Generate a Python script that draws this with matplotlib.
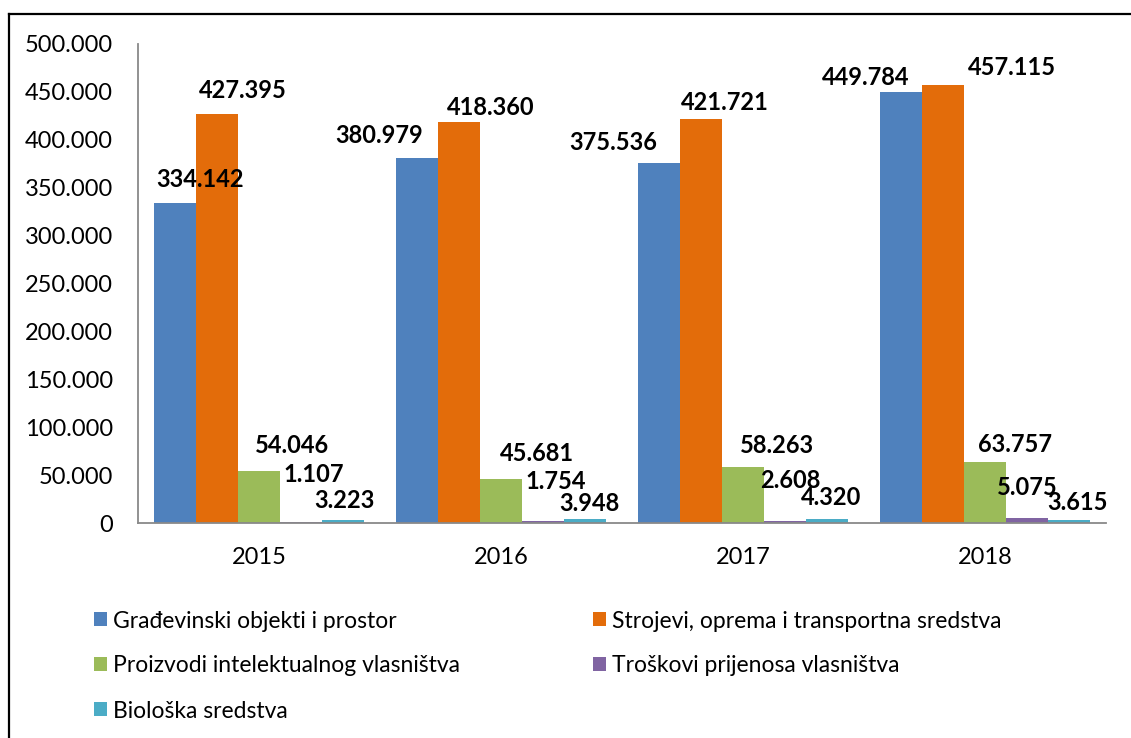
import matplotlib
matplotlib.use("Agg")
import matplotlib.pyplot as plt
from matplotlib.lines import Line2D
from matplotlib.patches import Patch
import numpy as np

plt.rcParams['font.family'] = ['Lato', 'DejaVu Sans']

years = ["2015", "2016", "2017", "2018"]
series_names = [
    "Građevinski objekti i prostor",
    "Strojevi, oprema i transportna sredstva",
    "Proizvodi intelektualnog vlasništva",
    "Troškovi prijenosa vlasništva",
    "Biološka sredstva",
]
gradjevinski = [334142, 380979, 375536, 449784]
strojevi = [427395, 418360, 421721, 457115]
proizvodi = [54046, 45681, 58263, 63757]
troskovi = [1107, 1754, 2608, 5075]
bioloska = [3223, 3948, 4320, 3615]
y_ticks = [0, 50000, 100000, 150000, 200000, 250000, 300000, 350000, 400000, 450000, 500000]

series_values = [gradjevinski, strojevi, proizvodi, troskovi, bioloska]
colors = ["#4F81BD", "#E36C0A", "#9BBB59", "#8064A2", "#4BACC6"]

# label offsets (pixels, from bar top centre), per series per year
label_dx = [[25, -38, -46, -35],
            [26, 32, 24, 69],
            [33, 36, 34, 30],
            [13, 13, 5, 0],
            [1, 4, 4, 8]]
label_dy = [[23, 23, 21, 15],
            [23, 15, 16, 18],
            [26, 26, 22, 17],
            [47, 40, 40, 31],
            [19, 16, 21, 17]]

# legend entry positions (pixels: left of marker, row centre)
legend_pos = [(94, 621), (593, 621), (94, 666), (593, 666), (94, 711)]

W, H = 1131, 738
fig = plt.figure(figsize=(W / 100, H / 100), dpi=100)
ax = fig.add_axes([138 / W, 1 - 523 / H, (1106 - 138) / W, (523 - 44) / H])

x = np.arange(len(years))
bw = 0.1736
handles = []
for i, (name, vals, c) in enumerate(zip(series_names, series_values, colors)):
    pos = x + (i - 2) * bw
    ax.bar(pos, vals, width=bw, color=c, edgecolor='none', label=name)
    handles.append(Patch(facecolor=c, edgecolor='none', label=name))
    for j, (p, v) in enumerate(zip(pos, vals)):
        ax.annotate(f"{v:,}".replace(",", "."), xy=(p, v),
                    xytext=(label_dx[i][j] * 0.72, label_dy[i][j] * 0.72),
                    textcoords='offset points', ha='center', va='center',
                    fontsize=17, fontweight='bold', color='black')

ax.set_xlim(-0.5, len(years) - 0.5)
ax.set_ylim(0, 500000)
ax.set_yticks(y_ticks)
ax.set_yticklabels([f"{t:,}".replace(",", ".") for t in y_ticks])
ax.set_xticks(x)
ax.set_xticklabels(years)
ax.tick_params(axis='both', length=0, labelsize=17, colors='black')
ax.tick_params(axis='y', pad=18)
ax.tick_params(axis='x', pad=17)
for s in ['top', 'right']:
    ax.spines[s].set_visible(False)
for s in ['left', 'bottom']:
    ax.spines[s].set_color('#898989')
    ax.spines[s].set_linewidth(1.3)

leg_kw = dict(frameon=False, fontsize=16.5, handlelength=0.55, handleheight=0.55,
              handletextpad=0.28, borderpad=0, borderaxespad=0, loc='center left')
for h, (lx, ly) in zip(handles, legend_pos):
    fig.legend(handles=[h], bbox_to_anchor=(lx / W, 1 - ly / H), **leg_kw)

# outer frame (left and top edges)
fig.add_artist(Line2D([9 / W, 9 / W], [0, 1 - 14 / H], transform=fig.transFigure,
                      color='black', linewidth=1.6))
fig.add_artist(Line2D([9 / W, 1], [1 - 14 / H, 1 - 14 / H], transform=fig.transFigure,
                      color='black', linewidth=1.6))

fig.savefig("out.png", dpi=100)
